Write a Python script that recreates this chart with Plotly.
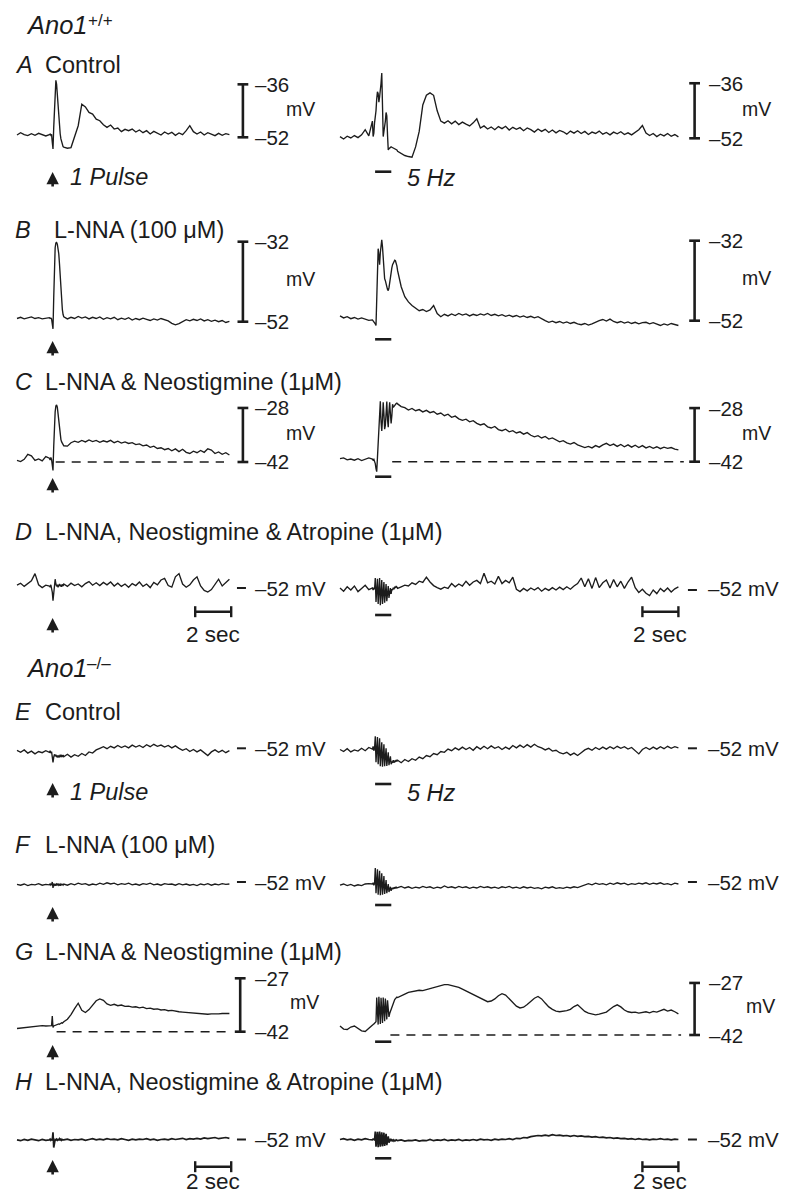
import numpy as np
import plotly.graph_objects as go

# ---------------------------------------------------------------------------
# DATA (membrane potential, mV).
# Each trace = 9 samples every 0.2 s (0-1.6 s), then a stimulus window sampled
# every 0.04 s from 1.8 s (20 samples for the single pulse, 35 for the 5 Hz
# train), then samples every 0.2 s until the end of the record.
# ---------------------------------------------------------------------------
STIM_T = 1.98            # single pulse (s)
TRAIN = (1.95, 2.85)     # 5 Hz train (s)
BURST_L, BURST_R = 20, 35

A_L = [-51.3, -50.6, -51.2, -51.5, -50.9, -51.4, -50.8, -51.3, -51.6,
       -51.2, -51.0, -51.4, -51.1, -53.5, -55.5, -49.0, -42.0, -37.0, -34.8,
       -36.0, -39.5, -43.0, -46.5, -49.0, -51.0, -52.5, -53.6, -54.3, -54.8,
       -55.0, -55.3, -55.1, -52.0, -48.5, -42.0, -42.8, -44.5, -45.0, -46.5,
       -47.0, -48.2, -49.0, -48.3, -49.5, -49.2, -50.3, -49.6, -50.0, -49.5,
       -50.4, -49.8, -50.6, -50.0, -51.0, -50.2, -50.8, -51.3, -50.4, -51.0,
       -50.5, -51.4, -50.7, -51.2, -50.0, -48.5, -50.3, -51.0, -50.4, -51.3,
       -50.6, -51.0, -51.5, -50.8, -51.4, -50.9, -51.2]
A_R = [-51.5, -52.2, -51.4, -51.9, -51.2, -51.8, -51.0, -49.5, -51.3,
       -47.0, -51.5, -50.5, -47.5, -46.0, -44.0, -40.5, -38.5, -39.0, -41.5,
       -40.0, -38.5, -36.0, -33.0, -42.0, -51.5, -50.0, -49.0, -47.0, -44.5,
       -45.5, -51.0, -55.4, -55.0, -54.8, -54.7, -54.5, -54.6, -54.7, -54.9,
       -54.8, -55.0, -55.1, -55.2, -55.4,
       -55.8, -56.5, -57.0, -57.3, -57.5, -54.5, -50.0, -42.3, -39.5, -38.8,
       -39.5, -44.0, -47.0, -47.6, -46.9, -47.8, -47.0, -48.0, -47.3, -47.9,
       -48.4, -47.5, -46.3, -49.0, -48.4, -49.3, -48.7, -49.5, -48.6, -49.2,
       -48.5, -49.6, -48.8, -49.4, -48.9, -49.8, -49.0, -49.5, -50.2, -49.3,
       -50.0, -49.4, -50.3, -49.6, -50.4, -49.7, -50.1, -50.8, -49.9, -50.5,
       -49.8, -50.6, -50.0, -50.9, -50.2, -50.6, -49.9, -50.8, -50.3, -51.0,
       -50.2, -50.7, -50.1, -50.9, -50.4, -51.0, -50.3, -49.5, -48.3, -50.5,
       -51.2, -50.6, -51.5, -50.8, -51.3, -50.6, -51.4, -50.9, -51.6]
B_L = [-51.2, -50.9, -51.3, -51.0, -50.8, -51.2, -51.0, -51.3, -51.1,
       -51.0, -51.2, -51.1, -51.3, -52.5, -53.8, -46.0, -38.0, -33.5, -32.3,
       -32.2, -32.6, -33.5, -35.0, -37.5, -41.0, -44.5, -47.0, -49.0, -50.2,
       -50.8, -51.3, -50.9, -51.2, -50.7, -51.1, -50.8, -51.3, -50.9, -51.2,
       -50.8, -51.4, -51.0, -51.3, -50.9, -51.5, -51.1, -51.4, -51.0, -51.6,
       -51.2, -51.5, -51.1, -51.4, -51.7, -51.3, -51.6, -51.2, -51.5, -51.8,
       -52.4, -52.8, -52.5, -52.0, -51.5, -51.8, -51.4, -51.7, -51.3, -51.8,
       -51.5, -51.9, -51.6, -52.0, -51.7, -52.2, -51.9]
B_R = [-50.8, -51.3, -51.0, -51.5, -51.2, -51.6, -51.3, -51.7, -51.9,
       -51.8, -52.0, -52.2, -52.4, -52.8, -53.2, -47.0, -40.0, -34.0, -35.5,
       -38.0, -35.0, -33.0, -31.8, -33.5, -37.0, -40.0, -41.5, -42.0, -42.5,
       -43.5, -44.2, -44.5, -43.8, -42.3, -41.0, -39.8, -38.8, -38.0, -37.5,
       -37.1, -36.9, -37.0, -37.5, -38.3,
       -39.5, -43.5, -46.0, -47.3, -48.2, -48.8, -49.5, -49.2, -49.7, -49.3,
       -48.2, -50.2, -51.0, -50.4, -50.8, -50.3, -50.7, -50.2, -50.6, -50.3,
       -50.8, -50.4, -50.7, -50.3, -50.6, -50.2, -50.7, -50.4, -50.8, -50.5,
       -50.9, -50.6, -51.0, -50.7, -51.1, -50.8, -51.2, -50.9, -51.3, -51.0,
       -51.6, -52.0, -52.4, -52.1, -52.5, -52.2, -52.6, -52.3, -52.7, -52.4,
       -52.8, -53.0, -52.7, -53.1, -52.8, -52.3, -52.0, -51.7, -52.1, -51.6,
       -52.2, -52.5, -52.2, -52.6, -52.3, -52.7, -52.4, -52.8, -52.5, -52.4,
       -52.8, -52.5, -52.9, -53.2, -52.8, -53.1, -52.7, -53.0, -53.2]
C_L = [-41.6, -41.9, -41.3, -40.0, -40.4, -41.6, -41.2, -41.7, -40.6,
       -41.0, -41.5, -40.8, -41.3, -43.0, -44.2, -38.0, -32.5, -29.0, -27.5,
       -27.2, -27.8, -29.5, -32.0, -34.0, -35.2, -36.2, -36.8, -37.3, -37.6,
       -37.8, -37.9, -37.0, -36.6, -36.9, -36.4, -36.8, -36.3, -36.7, -36.4,
       -36.9, -36.5, -36.8, -36.4, -37.0, -36.6, -37.1, -36.8, -37.2, -37.0,
       -37.5, -37.3, -37.8, -37.6, -38.2, -37.9, -38.5, -38.3, -38.8, -38.5,
       -39.1, -38.6, -39.3, -38.7, -39.5, -39.8, -39.2, -39.6, -39.0, -39.5,
       -38.6, -38.9, -39.8, -39.4, -40.0, -39.6, -40.2]
C_R = [-41.2, -41.0, -41.5, -41.3, -41.6, -41.2, -41.7, -41.4, -41.0,
       -41.3, -41.6, -41.4, -41.8, -42.5, -43.8, -44.6, -41.0, -37.0, -33.0,
       -28.0, -26.2, -31.5, -34.0, -31.0, -26.5, -29.5, -33.5, -32.5, -27.5,
       -26.3, -31.0, -33.0, -29.0, -26.5, -29.5, -32.0, -30.0, -27.0, -27.8,
       -27.5, -27.2, -27.0, -26.8, -26.7,
       -26.9, -27.6, -27.9, -28.5, -28.1, -28.7, -28.4, -29.0, -28.6, -29.2,
       -28.9, -29.6, -29.3, -30.0, -29.6, -30.4, -30.1, -30.8, -31.2, -30.9,
       -31.6, -31.3, -32.0, -32.4, -32.1, -32.9, -33.2, -32.8, -33.6, -33.9,
       -33.5, -34.2, -33.9, -34.5, -34.2, -34.8, -34.4, -35.1, -35.5, -35.2,
       -35.8, -35.4, -36.1, -35.8, -36.4, -36.8, -36.5, -37.1, -37.4, -37.0,
       -37.6, -37.9, -38.3, -38.0, -38.4, -37.8, -38.2, -37.6, -37.2, -37.8,
       -37.4, -38.0, -37.5, -38.1, -37.6, -38.2, -37.7, -38.3, -37.8, -38.4,
       -38.0, -38.5, -38.1, -38.6, -38.2, -38.5, -38.3, -38.7, -38.9]
D_L = [-51.3, -50.8, -51.6, -51.0, -50.2, -48.4, -51.2, -51.9, -51.3,
       -51.5, -51.8, -51.2, -51.9, -53.0, -55.2, -53.5, -50.5, -49.8, -51.0,
       -51.6, -51.2, -51.8, -51.3, -51.0, -51.6, -51.2, -51.7, -51.1, -51.5,
       -51.0, -51.6, -50.8, -51.4, -51.0, -51.7, -50.9, -50.4, -51.3, -50.7,
       -51.4, -50.6, -51.2, -50.5, -51.5, -50.8, -51.6, -51.0, -51.8, -50.9,
       -51.4, -50.5, -51.6, -51.0, -51.9, -50.6, -51.2, -50.0, -49.6, -51.4,
       -51.8, -49.2, -48.4, -51.0, -51.8, -51.2, -50.0, -49.2, -51.5, -52.6,
       -53.0, -52.4, -51.0, -49.8, -51.5, -50.6, -49.8]
D_R = [-51.5, -52.3, -51.2, -52.0, -51.0, -52.4, -51.6, -50.8, -51.9,
       -51.5, -52.0, -51.4, -51.8,
       -49.0, -55.0, -52.0, -49.2, -55.5, -52.2, -49.0, -55.8, -52.0,
       -49.5, -55.5, -52.3, -50.0, -55.2, -52.0, -50.5, -54.8, -52.2,
       -51.0, -54.0, -52.0, -51.5, -53.0, -51.8,
       -52.0, -51.4, -51.8, -51.2, -51.5, -51.0, -51.3,
       -51.6, -51.2, -50.8, -51.0, -50.2, -50.6, -49.8, -50.1, -48.8, -50.0,
       -50.9, -51.4, -51.8, -51.3, -51.6, -50.4, -51.2, -50.5, -51.0, -49.8,
       -50.8, -50.0, -49.6, -50.4, -47.8, -50.2, -49.8, -50.5, -48.6, -50.4,
       -49.6, -50.2, -48.8, -51.8, -52.4, -51.6, -52.2, -51.5, -52.0, -51.4,
       -52.3, -51.6, -52.1, -51.4, -52.0, -51.3, -51.9, -51.2, -51.8, -51.0,
       -50.4, -49.0, -51.2, -49.2, -51.6, -48.9, -51.4, -50.2, -49.5, -51.5,
       -49.4, -51.2, -49.8, -51.6, -50.0, -48.8, -51.4, -52.6, -51.8, -52.8,
       -53.4, -52.0, -52.9, -51.6, -52.4, -51.5, -52.5, -51.7, -51.2]
E_L = [-52.5, -53.0, -52.4, -53.2, -52.7, -53.4, -52.8, -53.1, -52.6,
       -53.0, -52.6, -53.2, -52.8, -54.0, -55.5, -54.2, -53.5, -54.0, -53.6,
       -54.2, -53.8, -54.3, -53.9, -54.1, -53.6, -54.2, -53.8, -54.0, -53.7,
       -54.1, -53.5, -54.2, -53.6, -54.0, -53.3, -53.8, -52.9, -53.2, -52.4,
       -52.0, -51.6, -52.1, -51.5, -51.9, -51.3, -51.8, -51.4, -51.9, -51.2,
       -51.7, -51.3, -51.8, -51.1, -51.6, -51.0, -51.5, -51.2, -51.7, -51.3,
       -51.9, -51.4, -52.0, -52.5, -52.1, -52.8, -52.3, -52.9, -52.4, -53.2,
       -53.8, -52.9, -52.4, -53.0, -52.5, -53.1, -52.6]
E_R = [-52.3, -52.8, -52.1, -52.9, -52.4, -52.7, -52.0, -52.6, -51.8,
       -52.2, -51.5, -52.6, -52.0,
       -49.0, -55.5, -52.5, -49.2, -56.0, -53.0, -49.5, -56.5, -53.5,
       -50.5, -56.6, -54.0, -51.0, -56.5, -54.5, -52.0, -56.4, -55.0,
       -53.0, -56.2, -55.2, -54.0, -56.0, -55.3,
       -55.5, -55.0, -55.6, -55.1, -55.4, -54.9, -55.3,
       -55.0, -55.6, -54.8, -55.3, -54.6, -55.0, -54.2, -54.6, -53.8, -54.1,
       -53.3, -53.6, -52.8, -53.0, -52.2, -52.6, -51.9, -52.4, -51.7, -52.3,
       -51.8, -52.5, -51.6, -52.2, -51.5, -52.1, -51.4, -52.0, -51.6, -52.3,
       -51.7, -52.2, -51.3, -51.9, -51.2, -51.8, -51.1, -51.7, -51.0, -51.6,
       -51.9, -52.4, -52.0, -52.7, -52.5, -53.1, -53.4, -53.0, -53.7, -53.2,
       -53.8, -53.1, -52.4, -52.0, -52.5, -51.8, -52.3, -51.7, -52.2, -51.6,
       -52.1, -51.5, -52.0, -51.6, -52.2, -51.8, -52.5, -53.4, -52.3, -51.8,
       -52.3, -51.7, -52.2, -51.6, -52.1, -51.5, -52.0, -51.6, -51.9]
F_L = [-52.6, -52.8, -52.5, -52.9, -52.6, -52.7, -52.4, -52.8, -52.6,
       -52.7, -52.5, -52.8, -52.6, -52.0, -53.5, -52.4, -52.8, -52.6, -52.9,
       -52.5, -52.7, -52.4, -52.8, -52.6, -52.9, -52.5, -52.7, -52.6, -52.8,
       -52.5, -52.8, -52.4, -52.7, -52.3, -52.6, -52.4, -52.8, -52.5, -52.7,
       -52.3, -52.6, -52.2, -52.5, -52.3, -52.7, -52.4, -52.6, -52.3, -52.7,
       -52.5, -52.8, -52.4, -52.6, -52.3, -52.7, -52.5, -52.8, -52.4, -52.6,
       -52.5, -52.8, -52.4, -52.7, -52.5, -52.8, -52.6, -52.9, -52.5, -52.7,
       -52.4, -52.8, -52.5, -52.7, -52.4, -52.6, -52.5]
F_R = [-52.8, -52.5, -52.9, -52.6, -53.0, -52.7, -52.9, -52.5, -52.4,
       -52.5, -52.2, -52.8, -52.4,
       -48.5, -54.8, -52.5, -48.8, -55.2, -52.8, -49.2, -55.3, -53.0,
       -49.8, -55.2, -53.2, -50.5, -55.0, -53.4, -51.5, -54.8, -53.5,
       -52.5, -54.5, -53.6, -53.2, -54.2, -53.5,
       -53.8, -53.4, -53.7, -53.3, -53.6, -53.2, -53.5,
       -53.4, -53.1, -53.5, -53.2, -53.6, -53.3, -53.5, -53.1, -53.4, -53.2,
       -53.6, -53.3, -53.5, -53.0, -53.4, -53.2, -53.5, -53.1, -53.4, -53.2,
       -53.6, -53.3, -53.5, -53.1, -53.4, -53.2, -53.5, -53.3, -53.6, -53.2,
       -53.4, -53.1, -53.5, -53.3, -53.6, -53.2, -53.5, -53.3, -53.6, -53.4,
       -53.7, -53.3, -53.5, -53.2, -53.6, -53.4, -53.6, -53.3, -53.5, -53.2,
       -53.4, -53.0, -52.7, -52.4, -52.7, -52.3, -52.6, -52.4, -52.7, -52.3,
       -52.6, -52.2, -52.5, -52.3, -52.7, -52.4, -52.6, -52.3, -52.5, -52.2,
       -52.6, -52.3, -52.5, -52.2, -52.6, -52.4, -52.7, -52.3, -52.5]
G_L = [-41.1, -41.0, -40.8, -40.6, -40.7, -40.4, -40.5, -40.3, -40.4,
       -40.3, -40.4, -40.2, -40.3, -37.6, -40.8, -40.4, -40.3, -40.2, -40.3,
       -40.1, -40.0, -39.9, -39.8, -39.9, -39.7, -39.6, -39.5, -39.6, -39.4,
       -39.2, -38.5, -37.2, -35.5, -34.0, -36.0, -36.6, -35.8, -34.4, -33.3,
       -32.8, -33.2, -34.2, -34.6, -34.3, -34.7, -34.5, -34.9, -34.8, -35.1,
       -35.0, -35.3, -35.1, -35.5, -35.4, -35.7, -35.6, -35.9, -35.8, -36.1,
       -36.0, -36.3, -36.4, -36.5, -36.6, -36.7, -36.8, -36.9, -37.0, -37.0,
       -37.1, -37.0, -37.1, -37.0, -36.9, -37.0, -36.9]
G_R = [-39.4, -40.3, -40.4, -39.7, -39.4, -40.2, -40.8, -41.0, -40.2,
       -39.3, -39.0, -38.8, -38.6, -38.4, -38.2, -31.2, -38.5, -39.0, -31.0,
       -38.0, -38.8, -31.3, -37.5, -38.5, -31.2, -37.0, -38.0, -31.5, -36.5,
       -37.5, -32.0, -36.0, -36.8, -35.8, -35.2, -34.5, -33.8, -33.2, -32.6,
       -32.2, -31.8, -31.5, -31.3, -31.1,
       -31.2, -30.8, -30.2, -29.7, -29.5, -29.3, -29.1, -29.2, -28.9, -28.8,
       -28.5, -28.2, -27.8, -27.5, -27.5, -27.7, -27.9, -28.3, -28.8, -29.3,
       -29.9, -30.5, -31.0, -31.5, -32.0, -32.4, -32.2, -31.6, -30.7, -30.1,
       -30.5, -31.6, -32.8, -33.7, -34.2, -34.0, -33.2, -32.3, -31.4, -30.9,
       -31.6, -32.8, -33.9, -34.6, -35.1, -35.3, -35.2, -35.0, -34.6, -33.8,
       -33.3, -34.2, -35.2, -35.7, -36.0, -36.2, -36.0, -35.8, -35.4, -34.6,
       -33.8, -33.3, -33.9, -34.8, -35.3, -35.5, -35.4, -35.7, -35.5, -35.3,
       -35.6, -35.2, -35.4, -35.0, -34.6, -35.1, -34.8, -35.3, -35.9]
H_L = [-52.1, -52.3, -52.0, -52.2, -51.9, -52.1, -52.3, -52.0, -52.2,
       -52.1, -51.9, -52.2, -52.0, -52.1, -50.2, -54.0, -52.2, -52.0, -52.1,
       -51.9, -52.2, -52.0, -52.1, -51.8, -52.1, -51.9, -52.2, -52.0, -52.1,
       -52.1, -51.9, -52.2, -52.0, -52.1, -51.9, -52.2, -52.0, -51.8, -52.1,
       -51.9, -52.1, -51.8, -52.0, -51.9, -52.1, -51.8, -52.0, -52.2, -51.9,
       -52.1, -51.9, -52.0, -51.8, -52.1, -51.9, -52.2, -52.0, -51.9, -52.1,
       -51.8, -52.0, -51.9, -51.7, -52.0, -51.8, -51.9, -51.7, -51.9, -51.6,
       -51.8, -51.7, -51.5, -51.8, -51.6, -51.5, -51.7]
H_R = [-52.0, -51.8, -52.1, -51.9, -52.2, -51.9, -52.1, -51.8, -52.0,
       -52.1, -51.9, -52.0, -52.1,
       -50.0, -53.8, -52.0, -50.1, -53.9, -52.1, -50.0, -53.8, -52.0,
       -50.2, -53.7, -52.1, -50.3, -53.6, -52.2, -50.6, -53.4, -52.1,
       -51.2, -52.8, -52.2, -51.8, -52.4, -52.1,
       -52.3, -52.1, -52.4, -52.2, -52.3, -52.1, -52.2,
       -52.3, -52.1, -52.4, -52.2, -52.3, -52.1, -52.4, -52.2, -52.3, -52.0,
       -52.3, -52.1, -52.2, -52.0, -52.3, -52.1, -52.2, -52.0, -52.3, -52.1,
       -52.2, -52.0, -52.2, -51.9, -52.1, -52.0, -52.2, -51.9, -52.1, -51.9,
       -52.0, -51.8, -52.0, -51.7, -51.8, -51.5, -51.6, -51.3, -51.2, -51.0,
       -51.1, -50.9, -51.1, -50.8, -51.0, -50.9, -51.1, -51.0, -51.2, -51.0,
       -51.2, -51.1, -51.3, -51.2, -51.4, -51.3, -51.5, -51.4, -51.6, -51.5,
       -51.7, -51.6, -51.8, -51.7, -51.9, -51.8, -52.0, -51.8, -52.0, -51.9,
       -52.1, -51.9, -52.0, -51.8, -52.0, -51.9, -52.1, -51.9, -52.0]

TRACES = [(A_L, A_R), (B_L, B_R), (C_L, C_R), (D_L, D_R),
          (E_L, E_R), (F_L, F_R), (G_L, G_R), (H_L, H_R)]

# scale bars (mV) for panels that have one: row index -> (bottom, top)
SCALE_MV = {0: (-52, -36), 1: (-52, -32), 2: (-42, -28), 6: (-42, -27)}
BASELINE_DASHED = {2: -42, 6: -42}
LEVEL_ONLY = [3, 4, 5, 7]          # rows labelled "-52 mV"
TIME_BAR_S = 2

PANELS = ["A", "B", "C", "D", "E", "F", "G", "H"]
CONDITIONS = ["Control", "L-NNA (100 \u03bcM)", "L-NNA & Neostigmine (1\u03bcM)",
              "L-NNA, Neostigmine & Atropine (1\u03bcM)",
              "Control", "L-NNA (100 \u03bcM)", "L-NNA & Neostigmine (1\u03bcM)",
              "L-NNA, Neostigmine & Atropine (1\u03bcM)"]

# ---------------------------------------------------------------------------
# LAYOUT (pixel geometry of the page)
# ---------------------------------------------------------------------------
W, H = 790, 1195
PX_PER_S = 18.0
INK = "#1c1c1c"
FONT = "Liberation Sans, Arial, Helvetica, sans-serif"

X_LEFT = dict(dom=(10, 335), t0=17)
X_RIGHT = dict(dom=(337, 790), t0=340)

ROWS = [  # band (top,bottom px), left/right: (px of ref, ref mV, px per mV)
    dict(band=(66, 168), L=(137.3, -52, 3.31), R=(138.3, -52, 3.44), stim=171.7, arrow=172, label=65),
    dict(band=(226, 335), L=(321.7, -52, 4.0), R=(320.7, -52, 4.0), stim=339.3, arrow=341, label=230),
    dict(band=(396, 472), L=(462.0, -42, 3.86), R=(461.7, -42, 3.83), stim=476.7, arrow=478, label=382),
    dict(band=(558, 626), L=(588.0, -52, 4.0), R=(590.0, -52, 4.0), stim=615, arrow=618, label=532),
    dict(band=(726, 776), L=(748.3, -52, 4.0), R=(748.3, -52, 4.0), stim=784, arrow=783, label=712),
    dict(band=(860, 900), L=(882.0, -52, 4.0), R=(882.0, -52, 4.0), stim=905, arrow=907, label=845),
    dict(band=(968, 1040), L=(1031.7, -42, 3.56), R=(1035.0, -42, 3.47), stim=1041.7, arrow=1045, label=952),
    dict(band=(1118, 1180), L=(1139.5, -52, 4.0), R=(1139.5, -52, 4.0), stim=1158.3, arrow=1160, label=1082),
]


def px_x(p):
    return p / W


def px_y(p):
    return 1 - p / H


def tgrid(n, nb):
    pre = np.arange(9) * 0.2
    burst = 1.8 + np.arange(nb) * 0.04
    post = 1.8 + nb * 0.04 + np.arange(n - 9 - nb) * 0.2
    return np.concatenate([pre, burst, post])


fig = go.Figure()
layout_axes = {}
shapes = []
annotations = []


def ax_names(k):
    return ("x" if k == 1 else f"x{k}"), ("y" if k == 1 else f"y{k}")


def add_line(xr, yr, x0, x1, y0, y1, w, dash="solid"):
    shapes.append(dict(type="line", xref=xr, yref=yr, x0=x0, x1=x1, y0=y0, y1=y1,
                       line=dict(color=INK, width=w, dash=dash), layer="above"))


def add_text(s, x, y, size, xref="paper", yref="paper", xanchor="left", yanchor="middle"):
    annotations.append(dict(text=s, x=x, y=y, xref=xref, yref=yref, showarrow=False,
                            xanchor=xanchor, yanchor=yanchor,
                            font=dict(family=FONT, size=size, color=INK)))


for i, row in enumerate(ROWS):
    top, bot = row["band"]
    for side, (xinfo, key) in enumerate([(X_LEFT, "L"), (X_RIGHT, "R")]):
        k = 2 * i + side + 1
        xn, yn = ax_names(k)
        ref_px, ref_mv, gain = row[key]
        d0, d1 = xinfo["dom"]
        layout_axes["xaxis" if k == 1 else f"xaxis{k}"] = dict(
            domain=[d0 / W, d1 / W], anchor=yn, visible=False, fixedrange=True,
            range=[(d0 - xinfo["t0"]) / PX_PER_S, (d1 - xinfo["t0"]) / PX_PER_S])
        layout_axes["yaxis" if k == 1 else f"yaxis{k}"] = dict(
            domain=[1 - bot / H, 1 - top / H], anchor=xn, visible=False, fixedrange=True,
            range=[ref_mv - (bot - ref_px) / gain, ref_mv + (ref_px - top) / gain])

        vals = TRACES[i][side]
        t = tgrid(len(vals), BURST_L if side == 0 else BURST_R)
        fig.add_trace(go.Scatter(x=t, y=vals, mode="lines", xaxis=xn, yaxis=yn,
                                 line=dict(color=INK, width=1.7 if i == 7 else 1.35),
                                 hoverinfo="skip", showlegend=False))

        bar_t = (12.4 if i == 6 else 12.55) if side == 0 else 19.7
        num_px = 253 if side == 0 else 707
        mv_px = (300 if i != 6 else 304) if side == 0 else (756 if i != 6 else 760)

        if i in SCALE_MV:
            lo, hi = SCALE_MV[i]
            add_line(xn, yn, bar_t, bar_t, lo, hi, 2.6)
            add_line(xn, yn, bar_t - 0.3, bar_t + 0.3, lo, lo, 2.6)
            add_line(xn, yn, bar_t - 0.3, bar_t + 0.3, hi, hi, 2.6)
            add_text("\u2013%d" % abs(hi), px_x(num_px), hi, 20.5, yref=yn)
            add_text("\u2013%d" % abs(lo), px_x(num_px), lo, 20.5, yref=yn)
            mid = (lo + hi) / 2
            add_text("mV", px_x(mv_px), mid + (0.6 if i != 6 else 0.9), 19.5,
                     yref=yn, xanchor="center")
        if i in BASELINE_DASHED:
            lvl = BASELINE_DASHED[i]
            if side == 0:
                t0_, t1_ = (2.15, 11.5) if i == 2 else (2.2, 11.85)
            else:
                t0_, t1_ = (2.9, 19.1) if i == 2 else (2.8, 18.95)
            add_line(xn, yn, t0_, t1_, lvl, lvl, 1.6, dash="9px,7px")
        if i in LEVEL_ONLY:
            d_t0 = 12.22 if side == 0 else 19.33
            add_line(xn, yn, d_t0, d_t0 + 0.5, -52, -52, 2.0)
            add_text("\u201352 mV", px_x(253 if side == 0 else 706),
                     -52 + (0.5 if (i == 3 and side == 1) else 0.0), 20.5, yref=yn)
        if i in (3, 7):
            bt0 = 9.9 if side == 0 else 16.8
            by = px_y(611.7 if i == 3 else 1166.7)
            cap = 5.5 / H
            add_line(xn, "paper", bt0, bt0 + TIME_BAR_S, by, by, 2.4)
            add_line(xn, "paper", bt0, bt0, by - cap, by + cap, 2.4)
            add_line(xn, "paper", bt0 + TIME_BAR_S, bt0 + TIME_BAR_S, by - cap, by + cap, 2.4)
            add_text("%d sec" % TIME_BAR_S, bt0 + TIME_BAR_S / 2, px_y(634 if i == 3 else 1181),
                     22.5, xref=xn, xanchor="center")
        if side == 0:
            # single pulse arrow (head + short stem)
            annotations.append(dict(x=STIM_T, y=px_y(row["arrow"]), xref=xn, yref="paper",
                                    text="", showarrow=True, ax=0, ay=16,
                                    arrowhead=2, arrowsize=0.95, arrowwidth=2.6,
                                    arrowcolor=INK))
        else:
            add_line(xn, "paper", TRAIN[0], TRAIN[1], px_y(row["stim"]), px_y(row["stim"]), 2.6)

    # panel letter and condition text
    add_text("<i>%s</i>" % PANELS[i], px_x(13), px_y(row["label"]), 23.5)
    add_text(CONDITIONS[i], px_x(52 if i == 1 else 43), px_y(row["label"]), 23.5)

# genotype headings
add_text("<i>Ano1</i>", px_x(24), px_y(25), 25.5)
add_text("+/+", px_x(86), px_y(21), 17)
add_text("<i>Ano1</i>", px_x(24), px_y(668), 25.5)
add_text("\u2013/\u2013", px_x(85), px_y(663), 17)

# stimulus legends
for py in (177, 792):
    add_text("<i>1 Pulse</i>", px_x(68), px_y(py), 23.5)
    add_text("<i>5 Hz</i>", px_x(405), px_y(py + 1), 23.5)

fig.update_layout(
    width=W, height=H, margin=dict(l=0, r=0, t=0, b=0, pad=0),
    paper_bgcolor="white", plot_bgcolor="rgba(0,0,0,0)",
    showlegend=False, shapes=shapes, annotations=annotations,
    font=dict(family=FONT, color=INK), **layout_axes)

fig.write_html("out.html", config={"displayModeBar": False},
               post_script="document.body.style.margin='0px';document.body.style.overflow='hidden';")
